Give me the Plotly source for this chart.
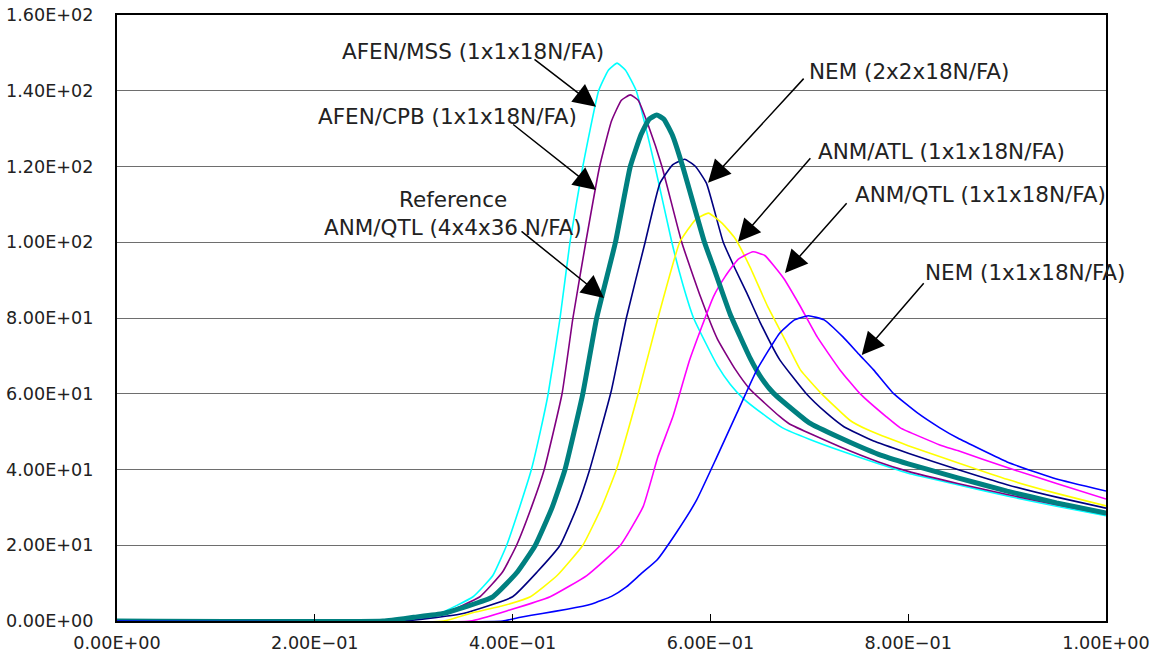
import plotly.graph_objects as go

# ---- data ----
x_mss = [0, 0.27, 0.30, 0.327, 0.36, 0.38, 0.394, 0.407, 0.419, 0.428, 0.436, 0.448, 0.458, 0.471, 0.487, 0.497, 0.5056, 0.514, 0.525, 0.544, 0.561, 0.572, 0.583, 0.596, 0.607, 0.620, 0.633, 0.657, 0.673, 0.70, 0.731, 0.77, 0.80, 0.85, 0.90, 0.95, 1.0]
y_mss = [0, 0, 0.8, 2.1, 6.4, 12, 20, 30, 40, 50, 60, 80, 100, 120, 140, 145.5, 147.3, 145.5, 140, 120, 100, 89, 80, 73, 67.5, 62.5, 58.8, 53.9, 51, 48, 45, 41.5, 39, 36, 33, 30.3, 27.8]

x_cpb = [0, 0.27, 0.30, 0.33, 0.367, 0.39, 0.404, 0.419, 0.432, 0.45, 0.461, 0.474, 0.488, 0.50, 0.51, 0.519, 0.527, 0.537, 0.551, 0.571, 0.59, 0.607, 0.625, 0.64, 0.67, 0.68, 0.731, 0.77, 0.80, 0.85, 0.90, 0.95, 1.0]
y_cpb = [0, 0, 0.8, 2, 6.4, 13, 20, 30, 40, 60, 80, 100, 120, 132, 137.5, 138.9, 137.5, 131, 120, 100, 85.6, 74.5, 66.5, 61.2, 54, 52, 46, 42, 39.5, 36.3, 33.4, 30.7, 28.2]

x_ref = [0, 0.269, 0.30, 0.33, 0.38, 0.405, 0.423, 0.44, 0.453, 0.471, 0.485, 0.504, 0.519, 0.53, 0.538, 0.5457, 0.553, 0.562, 0.572, 0.594, 0.603, 0.61, 0.62, 0.64, 0.652, 0.664, 0.70, 0.73, 0.77, 0.80, 0.85, 0.90, 0.95, 1.0]
y_ref = [0, 0, 1, 2, 6.4, 13, 20, 30, 40, 60, 80, 100, 120, 128.5, 132.5, 133.6, 132.5, 128, 120, 100, 93.5, 88.3, 81, 69.5, 64, 60.1, 52.3, 48.5, 44, 41.5, 37.8, 34.3, 31.2, 28.5]

x_nem2 = [0, 0.29, 0.35, 0.40, 0.425, 0.448, 0.465, 0.478, 0.50, 0.515, 0.534, 0.549, 0.562, 0.574, 0.585, 0.596, 0.613, 0.625, 0.637, 0.65, 0.67, 0.697, 0.717, 0.735, 0.765, 0.80, 0.85, 0.90, 0.95, 1.0]
y_nem2 = [0, 0, 2, 6.4, 13, 20, 30, 40, 61, 80, 100, 115.6, 120.5, 121.9, 120, 115.6, 100, 93, 86.5, 79, 69, 60, 55, 51.3, 47.5, 44.3, 40, 36, 32.7, 29.8]

x_atl = [0, 0.33, 0.357, 0.39, 0.418, 0.445, 0.471, 0.49, 0.505, 0.527, 0.547, 0.569, 0.585, 0.598, 0.612, 0.625, 0.64, 0.658, 0.675, 0.691, 0.712, 0.741, 0.758, 0.80, 0.85, 0.90, 0.95, 1.0]
y_atl = [0, 0, 2, 4, 6.4, 12, 20, 30, 40, 60, 80, 100, 106, 107.7, 105, 101, 93.5, 83, 74.5, 66.3, 60.1, 53, 50.6, 46.3, 41.8, 37.4, 33.7, 30.4]

x_qtl = [0, 0.357, 0.397, 0.438, 0.475, 0.509, 0.532, 0.547, 0.562, 0.579, 0.603, 0.615, 0.628, 0.643, 0.655, 0.674, 0.69, 0.708, 0.731, 0.751, 0.778, 0.792, 0.832, 0.85, 0.90, 0.95, 1.0]
y_qtl = [0, 0, 2.9, 6.4, 12, 20, 30.2, 43.4, 53.9, 68.9, 85.6, 91, 95.5, 97.5, 96.5, 90.5, 83.5, 75, 66.3, 60.1, 53.9, 51, 46.5, 45, 40.5, 36.3, 32.2]

x_nem1 = [0, 0.39, 0.408, 0.43, 0.455, 0.48, 0.50, 0.515, 0.53, 0.546, 0.566, 0.586, 0.606, 0.627, 0.647, 0.67, 0.685, 0.699, 0.715, 0.734, 0.751, 0.765, 0.785, 0.809, 0.832, 0.85, 0.90, 0.93, 0.95, 1.0]
y_nem1 = [0, 0, 1, 2, 3.1, 4.5, 6.5, 9, 12.5, 16.1, 23.5, 31.9, 43, 55, 66.3, 76, 79.5, 80.6, 79.5, 75, 70.2, 66.3, 60.1, 55, 51, 48.3, 42, 39.2, 37.5, 34.3]

y_tickvals = [0, 20, 40, 60, 80, 100, 120, 140, 160]
y_ticktext = ["0.00E+00", "2.00E+01", "4.00E+01", "6.00E+01", "8.00E+01",
              "1.00E+02", "1.20E+02", "1.40E+02", "1.60E+02"]
x_tickvals = [0, 0.2, 0.4, 0.6, 0.8, 1.0]
x_ticktext = ["0.00E+00", "2.00E\u221201", "4.00E\u221201", "6.00E\u221201", "8.00E\u221201", "1.00E+00"]

series = [
    ("AFEN/MSS (1x1x18N/FA)", x_mss, y_mss, "#00FFFF", 1.6),
    ("AFEN/CPB (1x1x18N/FA)", x_cpb, y_cpb, "#800080", 1.6),
    ("NEM (2x2x18N/FA)", x_nem2, y_nem2, "#000080", 1.6),
    ("ANM/ATL (1x1x18N/FA)", x_atl, y_atl, "#FFFF00", 1.6),
    ("ANM/QTL (1x1x18N/FA)", x_qtl, y_qtl, "#FF00FF", 1.6),
    ("Reference ANM/QTL (4x4x36 N/FA)", x_ref, y_ref, "#008080", 5),
    ("NEM (1x1x18N/FA)", x_nem1, y_nem1, "#0000FF", 1.6),
]

fig = go.Figure()
for name, xs, ys, col, w in series:
    fig.add_trace(go.Scatter(x=xs, y=ys, mode="lines", name=name,
                             line=dict(color=col, width=w, shape="spline", smoothing=0.4)))

FONT = "DejaVu Sans"
labels = [
    ("AFEN/MSS (1x1x18N/FA)", 0.3604, 150.3),
    ("AFEN/CPB (1x1x18N/FA)", 0.3342, 133.3),
    ("Reference", 0.3397, 111.2),
    ("ANM/QTL (4x4x36 N/FA)", 0.3402, 103.8),
    ("NEM (2x2x18N/FA)", 0.8008, 145.0),
    ("ANM/ATL (1x1x18N/FA)", 0.8332, 123.9),
    ("ANM/QTL (1x1x18N/FA)", 0.8726, 112.5),
    ("NEM (1x1x18N/FA)", 0.9181, 91.9),
]
# (head x, head y, tail x, tail y)
arrows = [
    (0.4843, 135.8, 0.4206, 148.6),
    (0.4843, 113.8, 0.3991, 131.4),
    (0.4924, 85.3, 0.4075, 103.2),
    (0.5976, 115.7, 0.6957, 143.6),
    (0.6279, 100.1, 0.7024, 122.6),
    (0.6754, 91.9, 0.7391, 110.7),
    (0.7530, 70.2, 0.8170, 89.6),
]
for t, x, y in labels:
    fig.add_annotation(x=x, y=y, xref="x", yref="y", text=t, showarrow=False,
                       font=dict(family=FONT, size=21.5, color="#222222"))
for hx, hy, tx, ty in arrows:
    fig.add_annotation(x=hx, y=hy, ax=tx, ay=ty, xref="x", yref="y", axref="x", ayref="y",
                       text="", showarrow=True, arrowhead=2, arrowsize=3, arrowwidth=1.5,
                       arrowcolor="#000000", standoff=0, startstandoff=0)

fig.update_layout(
    width=1162, height=666,
    margin=dict(l=117, r=56, t=15, b=45, autoexpand=False),
    paper_bgcolor="white", plot_bgcolor="white",
    showlegend=False,
    font=dict(family=FONT, size=17.5, color="#222222"),
)
fig.update_xaxes(range=[0, 1], tickvals=x_tickvals, ticktext=x_ticktext, automargin=False,
                 showgrid=False, zeroline=False, showline=True, linecolor="black", linewidth=2,
                 mirror=True, ticks="inside", ticklen=7, tickcolor="black", tickwidth=1,
                 ticklabeloverflow="allow",
                 tickfont=dict(family=FONT, size=17.6, color="#222222"), ticklabelstandoff=5)
fig.update_yaxes(range=[0, 160], tickvals=y_tickvals, ticktext=y_ticktext, automargin=False,
                 showgrid=True, gridcolor="#6e6e6e", gridwidth=1, zeroline=False,
                 showline=True, linecolor="black", linewidth=2, mirror=True, ticks="",
                 ticklabeloverflow="allow",
                 tickfont=dict(family=FONT, size=17.6, color="#222222"), ticklabelstandoff=18)

# remove the default page margin so the figure sits at the window's top-left corner
fig.write_html("out.html", config={"displayModeBar": False},
               post_script="document.body.style.margin='0';")
